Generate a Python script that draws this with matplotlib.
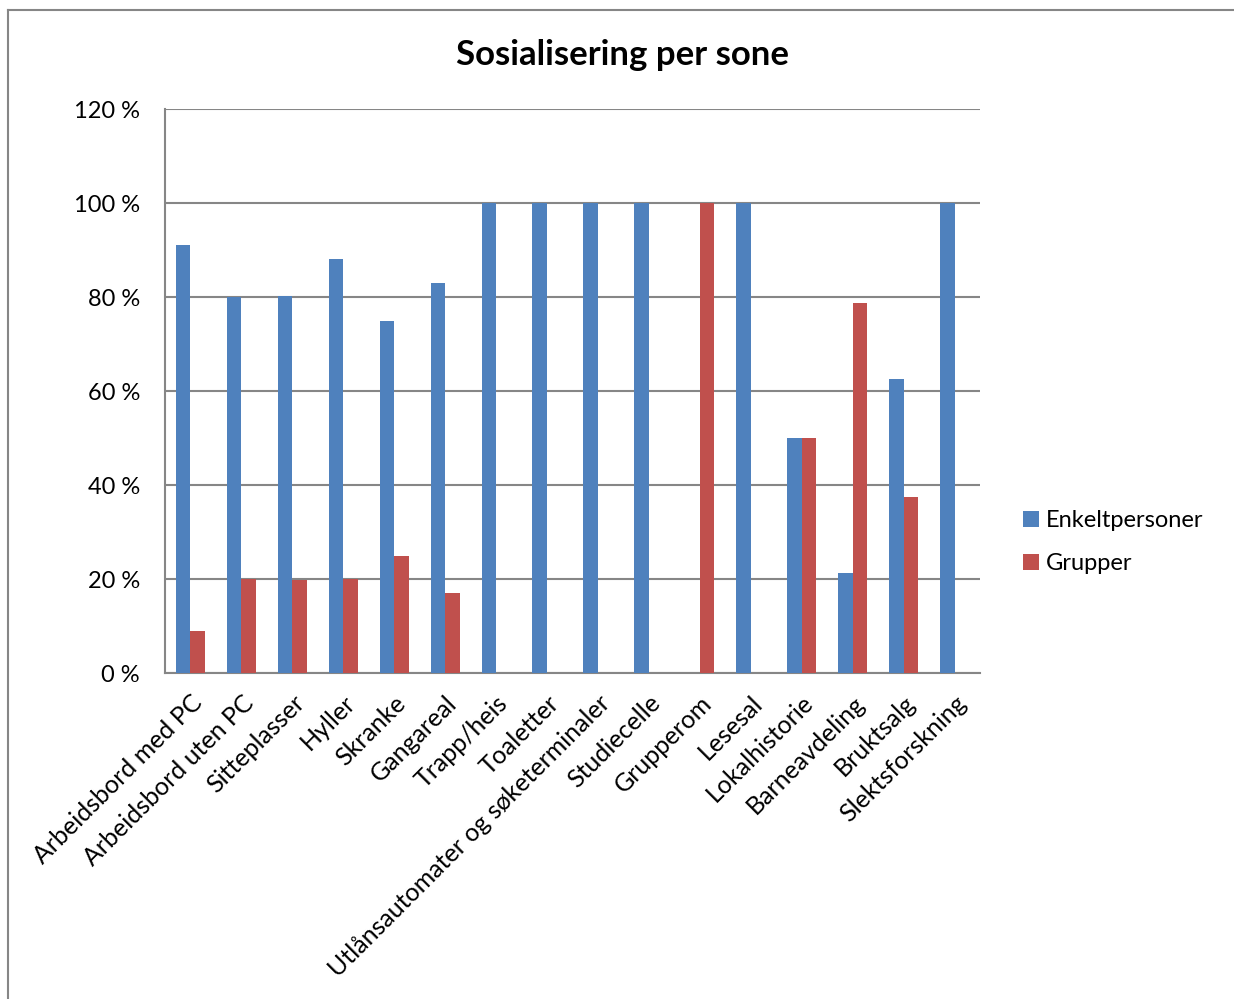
import numpy as np
import matplotlib.pyplot as plt
from matplotlib.lines import Line2D

plt.rcParams['font.family'] = ['Lato', 'DejaVu Sans']

kategorier = ['Arbeidsbord med PC', 'Arbeidsbord uten PC', 'Sitteplasser', 'Hyller',
              'Skranke', 'Gangareal', 'Trapp/heis', 'Toaletter',
              'Utlånsautomater og søketerminaler', 'Studiecelle', 'Grupperom', 'Lesesal',
              'Lokalhistorie', 'Barneavdeling', 'Bruktsalg', 'Slektsforskning']
enkeltpersoner = [91.1, 80.1, 80.3, 88.0, 75.0, 83.0, 100, 100, 100, 100, 0, 100, 50, 21.2, 62.5, 100]
grupper = [8.9, 20.0, 19.7, 20.0, 25.0, 17.0, 0, 0, 0, 0, 100, 0, 50, 78.8, 37.5, 0]
yticks = [0, 20, 40, 60, 80, 100, 120]

blaa = '#4f81bd'
roed = '#c0504d'
graa = '#868686'

fig = plt.figure(figsize=(12.34, 9.99), dpi=100)
ax = fig.add_axes([165/1234, 1-673/999, 815/1234, 564/999])

x = np.arange(len(kategorier))
w = 1/3.5
ax.bar(x - w/2, enkeltpersoner, w, color=blaa, label='Enkeltpersoner', zorder=3)
ax.bar(x + w/2, grupper, w, color=roed, label='Grupper', zorder=3)

ax.set_xlim(-0.5, len(kategorier) - 0.5)
ax.set_ylim(0, 120)
ax.set_yticks(yticks)
ax.set_yticklabels([f'{v} %' for v in yticks], fontsize=17)
ax.yaxis.grid(True, color=graa, linewidth=1.5, zorder=0)
ax.tick_params(axis='y', length=0, pad=18)
ax.set_xticks(x)
ax.set_xticklabels(kategorier, rotation=45, ha='right', rotation_mode='anchor', fontsize=18)
ax.tick_params(axis='x', length=0, pad=13)

for s in ['top', 'right']:
    ax.spines[s].set_visible(False)
for s in ['left', 'bottom']:
    ax.spines[s].set_color(graa)
    ax.spines[s].set_linewidth(1.5)

fig.text(622/1234, 1-55/999, 'Sosialisering per sone', fontsize=25, fontweight='bold',
         ha='center', va='center')

ax.legend(loc='center left', bbox_to_anchor=(1.053, 0.232), frameon=False, fontsize=17,
          borderaxespad=0, borderpad=0, handlelength=0.68, handleheight=0.68,
          handletextpad=0.3, labelspacing=0.95)

# ramme rundt diagrammet
fig.add_artist(Line2D([8/1234, 8/1234], [0, 1-10/999], color=graa, linewidth=1.5))
fig.add_artist(Line2D([8/1234, 1], [1-10/999, 1-10/999], color=graa, linewidth=1.5))

fig.savefig('out.png', dpi=100)
